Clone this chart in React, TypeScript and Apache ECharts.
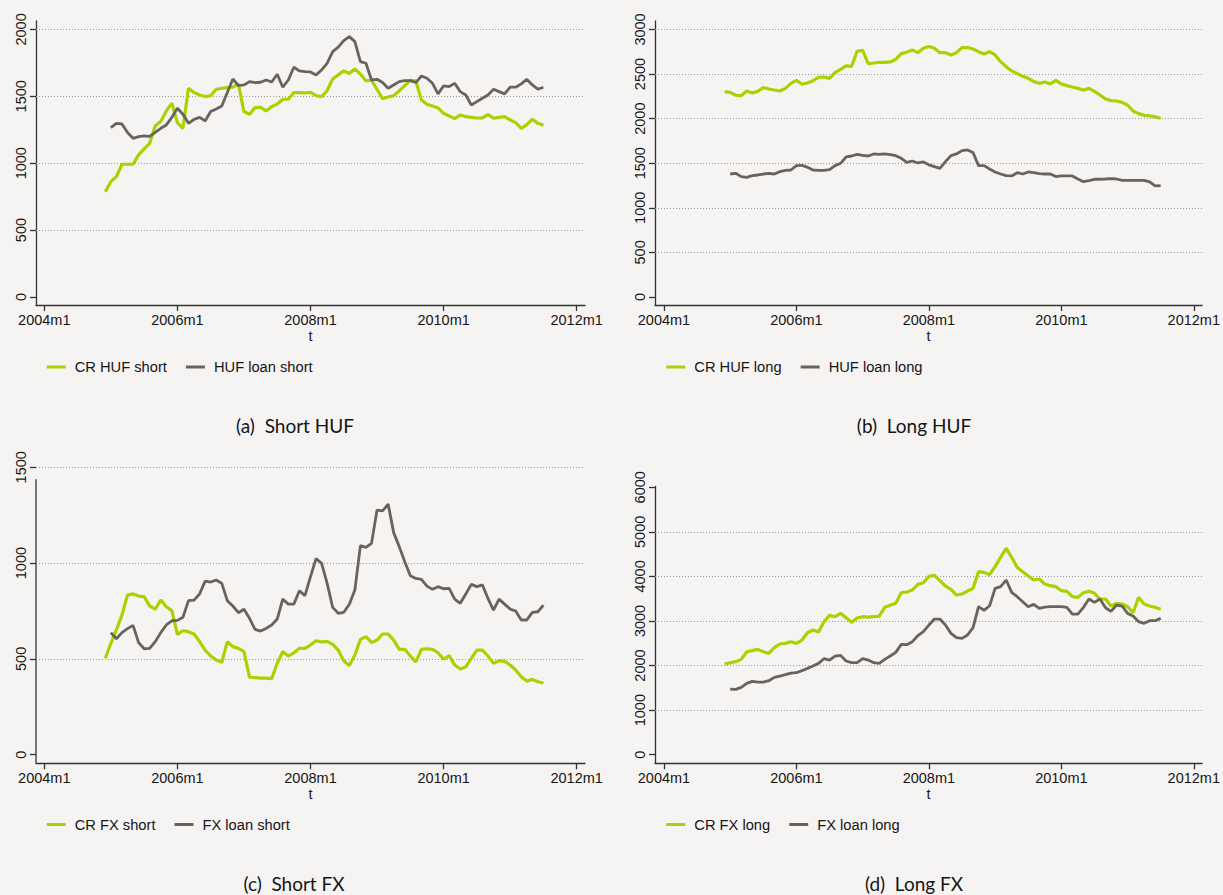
import React, { useEffect, useRef } from "react";
import * as echarts from "echarts";

// x value = months since 2004m1
const CR_START = 11; // 2004m12
const LOAN_START = 12; // 2005m1

const xTicks = [0, 24, 48, 72, 96];
const xTickLabels = ["2004m1", "2006m1", "2008m1", "2010m1", "2012m1"];

const ticksA = [0, 500, 1000, 1500, 2000];
const ticksB = [0, 500, 1000, 1500, 2000, 2500, 3000];
const ticksC = [0, 500, 1000, 1500];
const ticksD = [0, 1000, 2000, 3000, 4000, 5000, 6000];

const gridA = [500, 1000, 1500, 2000];
const gridB = [500, 1000, 1500, 2000, 2500, 3000];
const gridC = [500, 1000, 1500];
const gridD = [1000, 2000, 3000, 4000, 5000];

const hufShortCR = [
  787, 862, 900, 992, 992, 992, 1062, 1107, 1149, 1279, 1311, 1391, 1448, 1303, 1261, 1560,
  1528, 1510, 1498, 1505, 1553, 1560, 1565, 1568, 1592, 1386, 1366, 1416, 1418, 1391, 1423,
  1443, 1478, 1478, 1528, 1528, 1525, 1530, 1505, 1497, 1543, 1630, 1660, 1690, 1671, 1705,
  1666, 1615, 1621, 1551, 1483, 1495, 1505, 1540, 1580, 1620, 1615, 1473, 1440, 1428, 1413,
  1373, 1353, 1333, 1361, 1348, 1343, 1338, 1338, 1363, 1336, 1343, 1348, 1323, 1303, 1261,
  1288, 1328, 1298, 1283,
];
const hufShortLoan = [
  1266, 1298, 1293, 1229, 1186, 1199, 1204, 1201, 1231, 1261, 1286, 1343, 1411, 1366, 1298,
  1328, 1343, 1316, 1386, 1406, 1428, 1528, 1630, 1580, 1585, 1610, 1603, 1605, 1622, 1607,
  1665, 1568, 1622, 1717, 1690, 1685, 1682, 1660, 1697, 1747, 1834, 1867, 1916, 1946, 1909,
  1759, 1747, 1622, 1627, 1603, 1560, 1585, 1610, 1617, 1617, 1603, 1652, 1635, 1597, 1518,
  1578, 1573, 1597, 1535, 1510, 1435, 1460, 1485, 1510, 1553, 1535, 1518, 1568, 1568, 1593,
  1627, 1585, 1553, 1568,
];
const hufLongCR = [
  2303, 2295, 2262, 2258, 2310, 2288, 2306, 2348, 2333, 2321, 2310, 2340, 2396, 2430, 2385,
  2400, 2426, 2463, 2467, 2452, 2516, 2553, 2591, 2587, 2755, 2766, 2617, 2624, 2632, 2632,
  2636, 2665, 2729, 2744, 2770, 2740, 2789, 2810, 2789, 2740, 2740, 2714, 2740, 2796, 2796,
  2781, 2751, 2725, 2751, 2714, 2639, 2583, 2535, 2505, 2475, 2452, 2415, 2396, 2411, 2389,
  2430, 2389, 2370, 2355, 2340, 2318, 2340, 2306, 2265, 2221, 2202, 2198, 2183, 2153, 2086,
  2056, 2037, 2030, 2022, 2004,
];
const hufLongLoan = [
  1379, 1387, 1350, 1342, 1361, 1368, 1379, 1387, 1379, 1406, 1420, 1424, 1473, 1477, 1454,
  1424, 1420, 1420, 1428, 1473, 1499, 1570, 1581, 1600, 1589, 1581, 1604, 1600, 1604, 1596,
  1585, 1555, 1510, 1525, 1503, 1514, 1482, 1462, 1443, 1518, 1585, 1604, 1641, 1649, 1619,
  1473, 1473, 1436, 1402, 1379, 1361, 1357, 1394, 1379, 1402, 1394, 1383, 1379, 1379, 1350,
  1357, 1357, 1357, 1323, 1293, 1305, 1320, 1320, 1323, 1327, 1323, 1308, 1308, 1308, 1308,
  1308, 1290, 1245, 1249,
];
const fxShortCR = [
  503, 581, 651, 729, 833, 839, 828, 825, 776, 760, 807, 772, 752, 628, 647, 642, 630, 590,
  546, 515, 494, 482, 590, 564, 555, 538, 404, 402, 400, 400, 397, 477, 538, 515, 532, 555,
  555, 572, 595, 588, 591, 576, 546, 489, 466, 520, 602, 616, 586, 598, 630, 630, 598, 550,
  550, 515, 484, 550, 553, 550, 532, 498, 517, 468, 447, 458, 503, 546, 546, 515, 477, 491,
  487, 468, 442, 407, 384, 393, 381, 374,
];
const fxShortLoan = [
  637, 605, 637, 658, 675, 585, 553, 555, 590, 637, 677, 699, 701, 717, 804, 807, 839, 906,
  901, 912, 894, 804, 776, 741, 759, 712, 654, 645, 659, 677, 708, 812, 786, 786, 856, 830,
  929, 1023, 999, 894, 769, 738, 743, 785, 859, 1091, 1082, 1103, 1277, 1272, 1308, 1159,
  1086, 1007, 934, 920, 915, 880, 863, 877, 866, 868, 812, 790, 839, 889, 877, 886, 816, 755,
  812, 786, 760, 750, 703, 703, 743, 746, 781,
];
const fxLongCR = [
  2034, 2064, 2087, 2139, 2311, 2334, 2363, 2311, 2274, 2401, 2483, 2498, 2536, 2498, 2573,
  2737, 2797, 2752, 2984, 3126, 3096, 3171, 3074, 2969, 3067, 3096, 3089, 3096, 3111, 3306,
  3351, 3396, 3635, 3650, 3695, 3822, 3859, 4000, 4024, 3904, 3785, 3710, 3583, 3605, 3672,
  3732, 4106, 4091, 4039, 4219, 4428, 4630, 4428, 4203, 4106, 4009, 3919, 3942, 3829, 3792,
  3770, 3680, 3665, 3545, 3530, 3635, 3665, 3620, 3493, 3493, 3336, 3396, 3381, 3321, 3186,
  3530, 3381, 3336, 3306, 3261,
];
const fxLongLoan = [
  1473, 1466, 1511, 1601, 1645, 1630, 1630, 1660, 1735, 1765, 1795, 1832, 1840, 1885, 1937,
  1990, 2049, 2154, 2124, 2214, 2229, 2102, 2064, 2064, 2154, 2124, 2064, 2049, 2139, 2214,
  2296, 2476, 2468, 2536, 2670, 2760, 2909, 3044, 3044, 2909, 2722, 2625, 2610, 2685, 2850,
  3321, 3239, 3343, 3732, 3770, 3919, 3643, 3545, 3433, 3321, 3373, 3283, 3313, 3321, 3321,
  3321, 3306, 3156, 3156, 3306, 3493, 3418, 3493, 3298, 3216, 3358, 3336, 3171, 3111, 2984,
  2947, 3007, 3007, 3059,
];

const GREEN = "#a8d200";
const BROWN = "#6b625c";
const BG = "#f5f4f2";
const AXIS = "#333333";
const TXT = "#151515";
const SANS = "'Liberation Sans', Arial, Helvetica, sans-serif";

const panels = [
  {
    names: ["CR HUF short", "HUF loan short"], cr: hufShortCR, loan: hufShortLoan,
    ticks: ticksA, gridVals: gridA, caption: "(a)  Short HUF",
    rect: { left: 36, top: 21, width: 549, height: 284 },
    xmin: -1.5, xmax: 97.5, ymin: -60, ymax: 2063,
    legendPos: { left: 46.7, top: 359.5 }, cap: [295, 425.5], hideYLine: false,
  },
  {
    names: ["CR HUF long", "HUF loan long"], cr: hufLongCR, loan: hufLongLoan,
    ticks: ticksB, gridVals: gridB, caption: "(b)  Long HUF",
    rect: { left: 655, top: 21, width: 549, height: 284 },
    xmin: -1.625, xmax: 97.5, ymin: -90, ymax: 3095,
    legendPos: { left: 666.3, top: 359.5 }, cap: [914, 425.5], hideYLine: false,
  },
  {
    names: ["CR FX short", "FX loan short"], cr: fxShortCR, loan: fxShortLoan,
    ticks: ticksC, gridVals: gridC, caption: "(c)  Short FX",
    rect: { left: 36, top: 467.3, width: 549, height: 296 },
    xmin: -1.5, xmax: 97.5, ymin: -45, ymax: 1500,
    legendPos: { left: 46.7, top: 817 }, cap: [294, 883], hideYLine: true,
  },
  {
    names: ["CR FX long", "FX loan long"], cr: fxLongCR, loan: fxLongLoan,
    ticks: ticksD, gridVals: gridD, caption: "(d)  Long FX",
    rect: { left: 655, top: 486.4, width: 549, height: 276.9 },
    xmin: -1.625, xmax: 97.5, ymin: -193, ymax: 6020,
    legendPos: { left: 666.3, top: 817 }, cap: [914, 883], hideYLine: false,
  },
];

function toPoints(start: number, vals: number[]) {
  return vals.map((v, i) => [start + i, v]);
}

function buildOption() {
  const axisLineStyle = { color: AXIS, width: 1.3 };
  const labelFont = { fontFamily: SANS, fontSize: 14.5, color: TXT };
  const series: any[] = [];
  panels.forEach((p, i) => {
    series.push({
      type: "line", name: p.names[0], xAxisIndex: i, yAxisIndex: i,
      data: toPoints(CR_START, p.cr), showSymbol: false, symbol: "none",
      lineStyle: { color: GREEN, width: 3.2 }, itemStyle: { color: GREEN }, z: 3,
      markLine: {
        silent: true, symbol: "none", z: 1, animation: false,
        label: { show: false },
        lineStyle: { color: "#9a9a9a", width: 1, type: [1, 2] },
        emphasis: { disabled: true },
        data: p.gridVals.map((v) => ({ yAxis: v })),
      },
    });
    series.push({
      type: "line", name: p.names[1], xAxisIndex: i, yAxisIndex: i,
      data: toPoints(LOAN_START, p.loan), showSymbol: false, symbol: "none",
      lineStyle: { color: BROWN, width: 2.8 }, itemStyle: { color: BROWN }, z: 3,
    });
  });

  const graphic: any[] = panels.map((p) => ({
    type: "text", x: p.cap[0], y: p.cap[1],
    style: {
      text: p.caption, fill: TXT, fontFamily: "Lato", fontSize: 19,
      textAlign: "center", textVerticalAlign: "middle",
    },
  }));
  panels.forEach((p) => {
    if (p.hideYLine) {
      graphic.push({
        type: "line",
        shape: { x1: p.rect.left, y1: 479.3, x2: p.rect.left, y2: p.rect.top + p.rect.height },
        style: { stroke: AXIS, lineWidth: 1.3 },
      });
    }
  });

  return {
    animation: false,
    backgroundColor: BG,
    grid: panels.map((p) => ({ ...p.rect, containLabel: false })),
    xAxis: panels.map((p, i) => ({
      type: "value", gridIndex: i, min: p.xmin, max: p.xmax,
      name: "t", nameLocation: "middle", nameGap: 23.5,
      nameTextStyle: { ...labelFont },
      axisLine: { show: true, onZero: false, lineStyle: axisLineStyle },
      axisTick: { show: true, length: 6, customValues: xTicks, lineStyle: axisLineStyle },
      axisLabel: {
        customValues: xTicks, margin: 7, ...labelFont,
        formatter: (v: number) => xTickLabels[xTicks.indexOf(v)] ?? "",
      },
      splitLine: { show: false },
    })),
    yAxis: panels.map((p, i) => ({
      type: "value", gridIndex: i, min: p.ymin, max: p.ymax,
      axisLine: { show: !p.hideYLine, onZero: false, lineStyle: axisLineStyle },
      axisTick: { show: true, length: 6, customValues: p.ticks, lineStyle: axisLineStyle },
      axisLabel: {
        customValues: p.ticks, rotate: 90, margin: 8, ...labelFont,
        formatter: (v: number) => String(v),
      },
      splitLine: { show: false },
    })),
    legend: panels.map((p) => ({
      data: p.names, left: p.legendPos.left, top: p.legendPos.top,
      orient: "horizontal", icon: "rect", itemWidth: 19, itemHeight: 3, itemGap: 19,
      padding: 0, selectedMode: false,
      textStyle: { fontFamily: SANS, fontSize: 14.7, color: TXT, padding: [0, 0, 0, 4] },
    })),
    graphic,
    series,
  };
}

export default function App() {
  const ref = useRef<HTMLDivElement>(null);
  useEffect(() => {
    document.body.style.margin = "0";
    document.body.style.background = BG;
    if (!ref.current) return;
    const chart = echarts.init(ref.current, undefined, { renderer: "svg" });
    chart.setOption(buildOption() as any);
    return () => chart.dispose();
  }, []);
  return <div ref={ref} style={{ width: 1223, height: 895 }} />;
}
